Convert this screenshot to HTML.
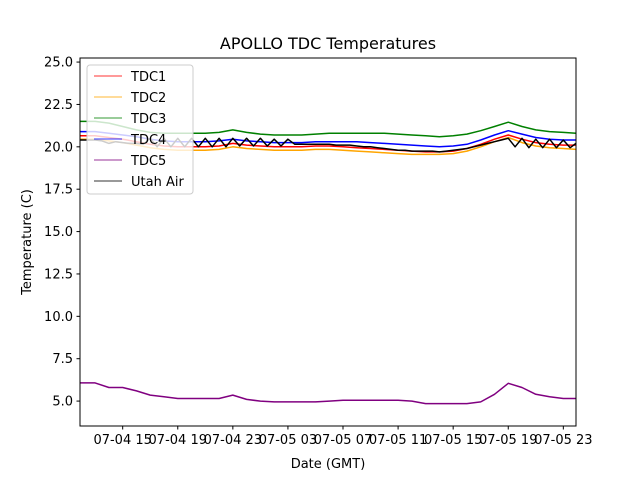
<!DOCTYPE html>
<html><head><meta charset="utf-8"><style>
body{margin:0;background:#fff;}
svg{display:block;font-family:"DejaVu Sans","Liberation Sans",sans-serif;}
</style></head><body>
<svg id="chart" width="640" height="480" viewBox="0 0 640 480">
<rect width="640" height="480" fill="#fff"/>
<text x="328" y="49" font-size="16" text-anchor="middle">APOLLO TDC Temperatures</text>
<text x="328" y="468" font-size="13" text-anchor="middle">Date (GMT)</text>
<text transform="translate(31,242) rotate(-90)" font-size="13" text-anchor="middle">Temperature (C)</text>
<g id="series"></g>
<g id="axes"></g>
<rect x="80" y="58" width="496" height="368" fill="none" stroke="#000" stroke-width="1"/>
<g id="legend"></g>
</svg>
<script>
const times = [11.9,12,13,14,15,16,17,18,19,20,21,22,23,24,25,26,27,28,29,30,31,32,33,34,35,36,37,38,39,40,41,42,43,44,45,46,47,47.92];
const tdc1 = [20.65,20.65,20.65,20.55,20.45,20.3,20.15,20.05,20.0,20.0,20.0,20.05,20.2,20.1,20.05,20.0,20.0,20.0,20.05,20.05,20.0,19.95,19.9,19.85,19.8,19.75,19.7,19.7,19.75,19.9,20.15,20.45,20.7,20.45,20.25,20.15,20.1,20.1];
const tdc2 = [20.45,20.45,20.45,20.35,20.25,20.1,19.95,19.85,19.8,19.8,19.8,19.85,20.0,19.9,19.85,19.8,19.8,19.8,19.85,19.85,19.8,19.75,19.7,19.65,19.6,19.55,19.55,19.55,19.6,19.75,20.0,20.3,20.55,20.25,20.05,19.95,19.9,19.85];
const tdc3 = [21.5,21.5,21.5,21.4,21.2,21.0,20.85,20.8,20.8,20.8,20.8,20.85,21.0,20.85,20.75,20.7,20.7,20.7,20.75,20.8,20.8,20.8,20.8,20.8,20.75,20.7,20.65,20.6,20.65,20.75,20.95,21.2,21.45,21.2,21.0,20.9,20.85,20.8];
const tdc4 = [20.9,20.9,20.9,20.8,20.7,20.6,20.45,20.35,20.3,20.3,20.3,20.35,20.45,20.35,20.3,20.25,20.25,20.25,20.3,20.3,20.3,20.3,20.25,20.2,20.15,20.1,20.05,20.0,20.05,20.15,20.4,20.7,20.95,20.75,20.55,20.45,20.4,20.4];
const tdc5 = [6.07,6.07,6.07,5.8,5.8,5.6,5.35,5.25,5.15,5.15,5.15,5.15,5.35,5.1,5.0,4.95,4.95,4.95,4.95,5.0,5.05,5.05,5.05,5.05,5.05,5.0,4.85,4.85,4.85,4.85,4.95,5.4,6.05,5.8,5.4,5.25,5.15,5.15];
const airTimes = [11.9,12,12.5,13,13.5,14,14.5,15,15.5,16,16.5,17,17.5,18,18.5,19,19.5,20,20.5,21,21.5,22,22.5,23,23.5,24,24.5,25,25.5,26,26.5,27,27.5,28,28.5,29,29.5,30,30.5,31,31.5,32,32.5,33,33.5,34,34.5,35,35.5,36,36.5,37,37.5,38,38.5,39,39.5,40,40.5,41,41.5,42,42.5,43,43.5,44,44.5,45,45.5,46,46.5,47,47.5,47.92];
const utahAir = [20.4,20.4,20.4,20.4,20.35,20.2,20.3,20.25,20.2,20.2,20.15,20.5,20.0,20.5,20.0,20.5,20.0,20.5,20.0,20.5,20.0,20.5,20.0,20.5,20.05,20.5,20.05,20.5,20.05,20.45,20.05,20.45,20.15,20.15,20.15,20.15,20.15,20.15,20.1,20.1,20.1,20.05,20.0,20.0,19.95,19.9,19.85,19.8,19.8,19.75,19.75,19.75,19.75,19.7,19.75,19.8,19.85,19.9,20.0,20.1,20.2,20.3,20.4,20.5,20.0,20.5,19.95,20.45,19.95,20.45,19.95,20.4,19.95,20.2];
const yTicks = [5.0,7.5,10.0,12.5,15.0,17.5,20.0,22.5,25.0];
const xTicks = [15,19,23,27,31,35,39,43,47];
const xTickLabels = ["07-04 15","07-04 19","07-04 23","07-05 03","07-05 07","07-05 11","07-05 15","07-05 19","07-05 23"];
const seriesNames = ["TDC1","TDC2","TDC3","TDC4","TDC5","Utah Air"];
const seriesColors = ["#ff0000","#ffa500","#008000","#0000ff","#800080","#000000"];

const X0=80,X1=576,Y0=58,Y1=426, TMIN=11.9, TMAX=47.92, VMIN=3.53, VMAX=25.24;
const xs = t => X0+(t-TMIN)/(TMAX-TMIN)*(X1-X0);
const ys = v => Y1-(v-VMIN)/(VMAX-VMIN)*(Y1-Y0);
const NS="http://www.w3.org/2000/svg";
const sg=document.getElementById('series'), ag=document.getElementById('axes'), lg=document.getElementById('legend');
function mk(tag,attrs,parent){const e=document.createElementNS(NS,tag);for(const k in attrs)e.setAttribute(k,attrs[k]);parent.appendChild(e);return e;}

const data=[[times,tdc1],[times,tdc2],[times,tdc3],[times,tdc4],[times,tdc5],[airTimes,utahAir]];
const order=[1,0,2,3,5,4];
order.forEach(i=>{
  const [t,v]=data[i];
  const pts=t.map((tt,j)=>xs(tt).toFixed(1)+','+ys(v[j]).toFixed(1)).join(' ');
  const pl=mk('polyline',{points:pts,fill:'none',stroke:seriesColors[i],'stroke-width':1.5,'stroke-linejoin':'round'},sg);
  
  
});

yTicks.forEach(v=>{
  const y=ys(v);
  const l=mk('line',{x1:X0-3.5,x2:X0,y1:y,y2:y,stroke:'#000'},ag);
  
  
  const tx=mk('text',{x:X0-7,y:y+4.5,'font-size':13,'text-anchor':'end'},ag);
  tx.textContent=v.toFixed(1);
  
  
});
xTicks.forEach((t,i)=>{
  const x=xs(t);
  const l=mk('line',{x1:x,x2:x,y1:Y1,y2:Y1+3.5,stroke:'#000'},ag);
  
  
  const tx=mk('text',{x:x,y:Y1+18,'font-size':13,'text-anchor':'middle'},ag);
  tx.textContent=xTickLabels[i];
  
  
});

const box=mk('rect',{x:87,y:65,width:106,height:129,rx:3,fill:'#fff','fill-opacity':0.8,stroke:'#ccc'},lg);


seriesNames.forEach((n,i)=>{
  const y=76+i*21;
  const g=mk('g',{},lg);
  
  
  mk('line',{x1:94,x2:122,y1:y,y2:y,stroke:seriesColors[i],'stroke-width':1,'stroke-opacity':0.8},g);
  const tx=mk('text',{x:131,y:y+5,'font-size':13},g);
  tx.textContent=n;
});
</script>
</body></html>
